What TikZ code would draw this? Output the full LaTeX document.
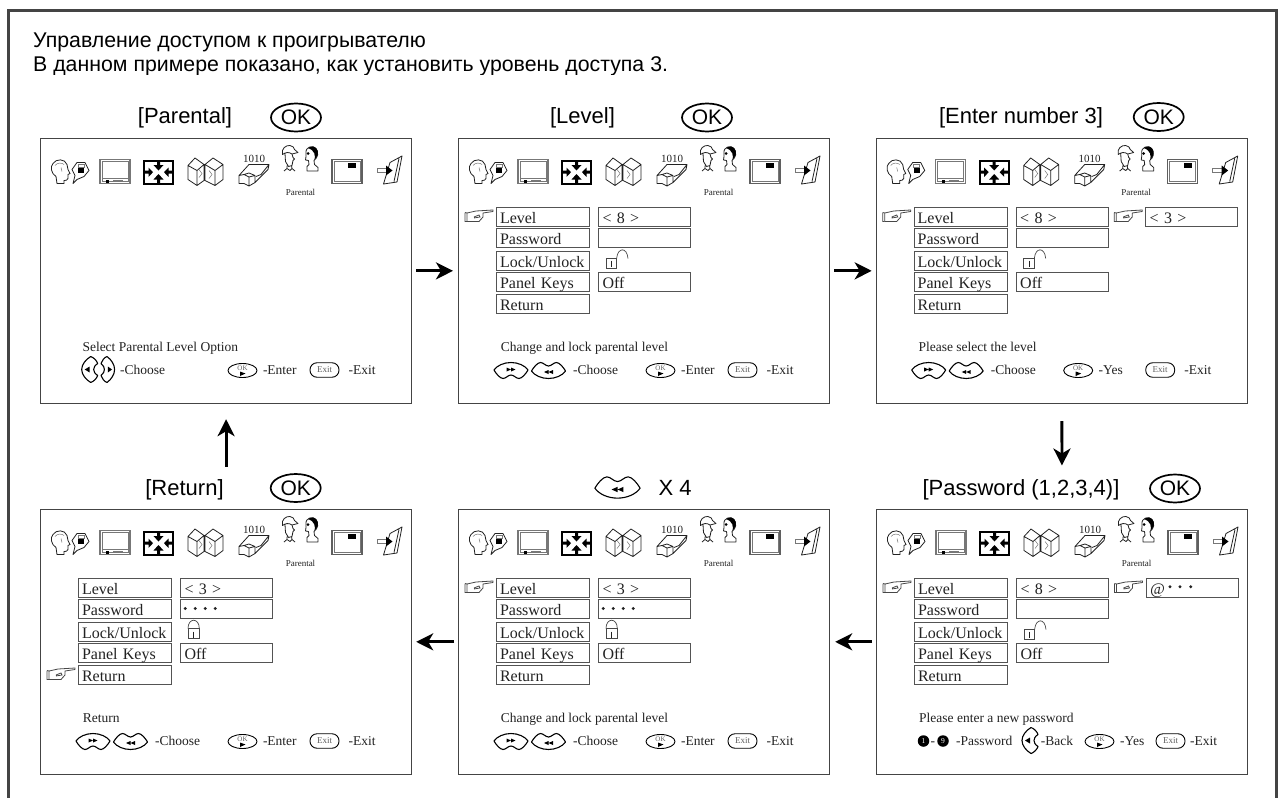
\documentclass[tikz,border=0pt]{standalone}
\usepackage{fontspec}
\setmainfont{Liberation Serif}
\newfontfamily\ruf{Liberation Sans}
\usetikzlibrary{shapes.geometric,arrows.meta}
\definecolor{ink}{HTML}{222222}
\definecolor{frame}{HTML}{444444}
\definecolor{soft}{HTML}{777777}
\tikzset{
  panel/.style={draw=frame,line width=1.2pt,anchor=north west,minimum width=371pt,minimum height=265.5pt,inner sep=0pt},
  menubox/.style={draw=soft!70!black,line width=1pt,anchor=north west,text width=86pt,inner xsep=3.5pt,inner ysep=0pt,minimum height=19pt,text height=14pt,text depth=1pt,align=left,font=\fontsize{16}{18}\selectfont,text=ink},
  valbox/.style={menubox,text width=84pt,inner xsep=4pt},
  ttl/.style={anchor=base,inner sep=0pt,font=\ruf\fontsize{22}{24}\selectfont,text=black},
  okring/.style={draw=black,line width=1.7pt,ellipse,minimum width=50pt,minimum height=28pt,inner sep=0pt,font=\ruf\fontsize{21}{22}\selectfont},
  intro/.style={anchor=base west,inner sep=0pt,font=\ruf\fontsize{21.3}{24}\selectfont,text=black},
  leg/.style={anchor=base west,inner sep=0pt,font=\fontsize{13.5}{15}\selectfont,text=ink},
  tiny/.style={inner sep=0pt,font=\fontsize{9}{10}\selectfont,text=ink},
  flow/.style={line width=2.9pt,draw=black,-{Stealth[length=17pt,width=17pt,inset=5pt]}},
  thin/.style={draw=ink,line width=.8pt},
  exitkey/.style={draw=black,line width=.9pt,rounded corners=7pt,minimum width=29pt,minimum height=14.5pt,inner sep=0pt,font=\fontsize{9}{10}\selectfont,text=soft!80!black},
  numkey/.style={circle,fill=black,minimum size=11.5pt,inner sep=0pt,text=white,font=\fontsize{7.5}{8}\selectfont},
  pics/btnconvex/.style={code={
    \draw[draw=black,line width=1.1pt,fill=white,line join=round] (-17,-.5) .. controls (-14,-5) and (-7,-8) .. (0,-8) .. controls (7,-8) and (14,-5) .. (17,-.5) .. controls (15,3) and (11,8) .. (8,8) .. controls (5,8) and (3,4.5) .. (0,4.5) .. controls (-3,4.5) and (-5,8) .. (-8,8) .. controls (-11,8) and (-15,3) .. (-17,-.5) -- cycle;
    \fill[black] (-4.5,-3) -- (0,-1) -- (-4.5,1) -- cycle (0,-3) -- (4.5,-1) -- (0,1) -- cycle;
  }},
  pics/btnconcave/.style={code={
    \draw[draw=black,line width=1.1pt,fill=white,line join=round] (-17,.5) .. controls (-15,-3) and (-11,-8) .. (-8,-8) .. controls (-5,-8) and (-3,-4.5) .. (0,-4.5) .. controls (3,-4.5) and (5,-8) .. (8,-8) .. controls (11,-8) and (15,-3) .. (17,.5) .. controls (14,5) and (7,8) .. (0,8) .. controls (-7,8) and (-14,5) .. (-17,.5) -- cycle;
    \fill[black] (-4.5,1.5) -- (0,-.5) -- (0,3.5) -- cycle (0,1.5) -- (4.5,-.5) -- (4.5,3.5) -- cycle;
  }},
  pics/btnside/.style={code={
    \draw[draw=black,line width=1.1pt,fill=white,line join=round] (1,-13) .. controls (-4,-10) and (-8,-5) .. (-8,0) .. controls (-8,5) and (-4,10) .. (1,13) .. controls (4,12) and (7,9) .. (8,6) .. controls (5,4) and (4,2) .. (4,0) .. controls (4,-2) and (5,-4) .. (8,-6) .. controls (7,-9) and (4,-12) .. (1,-13) -- cycle;
    \fill[black] (-5,0) -- (0,-3) -- (0,3) -- cycle;
  }},
  pics/pointer/.style={code={
    \draw[draw=soft!60!black,line width=.8pt,fill=white,line join=round] (2,3) -- (11,1) -- (28,0) -- (28,1.5) -- (18,3) -- (18,7) -- (14,11.5) -- (2,11.5) -- cycle;
    \draw[draw=soft!60!black,line width=.8pt] (0,2.5) -- (2,3) (0,2.5) -- (0,11.5) -- (2,11.5) (9,7) -- (14,5) -- (15,7) -- (9,8);
  }},
  pics/btnok/.style={code={
    \draw[draw=black,line width=.9pt] (0,0) ellipse (14.5pt and 7pt);
    \node[inner sep=0pt,font=\fontsize{7}{7}\selectfont,text=soft!80!black] at (0,-2.6) {OK};
    \fill[black] (-2.5,1) -- (3,3) -- (-2.5,5.5) -- cycle;
  }}
}
% ----- the row of menu icons, in panel coordinates
\newcommand{\iconrow}[1]{%
  % talking head
  \draw[thin] (17,46) -- (16,39) .. controls (11,36) and (10,29) .. (13,26) .. controls (16,21) and (25,21) .. (27,27) -- (28,32) -- (30,36) -- (28,37) -- (28,41) .. controls (28,43) and (25,43) .. (24,43) -- (24,46) -- cycle;
  \draw[soft,line width=.5pt] (15,28) .. controls (17,25) and (22,25) .. (24,27) (21,30) -- (22,34);
  \draw[thin,line join=round] (37,25) -- (45,25) -- (49,33) -- (44,39) -- (37,42) -- (33,46) -- (35,38) -- (32,32) -- cycle;
  \fill[black] (38,29.5) rectangle (44,35);
  \draw[soft,line width=.6pt] (38,27) rectangle (44,29.5);
  % screen
  \draw[soft,line width=1.2pt] (60,22) rectangle (90,46);
  \draw[soft,line width=.5pt] (62,24) rectangle (88,41) (62,41) -- (62,44) -- (88,44) -- (88,41);
  \fill[black] (66,42) rectangle (69,45);
  \draw[soft,line width=.7pt] (73,43) -- (83,43);
  % expand
  \draw[black,line width=2pt] (104,23.5) rectangle (133,46);
  \fill[black] (118.5,33) -- (113.5,27.5) -- (117,27.5) -- (117,24) -- (120,24) -- (120,27.5) -- (123.5,27.5) -- cycle
    (118.5,36.5) -- (113.5,42) -- (117,42) -- (117,46) -- (120,46) -- (120,42) -- (123.5,42) -- cycle
    (113,34.7) -- (108.5,30) -- (108.5,33.2) -- (104,33.2) -- (104,36.2) -- (108.5,36.2) -- (108.5,39.4) -- cycle
    (124,34.7) -- (128.5,30) -- (128.5,33.2) -- (133,33.2) -- (133,36.2) -- (128.5,36.2) -- (128.5,39.4) -- cycle;
  % map
  \draw[thin,line join=round] (148,28) -- (155,20.5) -- (164,27) -- (157,33) -- cycle (148,28) -- (148,42) -- (157,48) -- (157,33) (157,48) -- (164,43) -- (164,27)
    (165,27) -- (173,20.5) -- (183,27) -- (175,33) -- cycle (165,27) -- (165,43) -- (175,48) -- (175,33) (175,48) -- (183,42) -- (183,27);
  \draw[soft,line width=.5pt] (159,32) -- (162,36) -- (159,40) (169,33) -- (172,37) -- (169,41);
  % 1010
  \node[inner sep=0pt,anchor=base,font=\fontsize{11}{11}\selectfont,text=ink] (#1-bits) at (214,25) {1010};
  \draw[thin,line join=round] (199,38) -- (209,27) -- (229,27) -- (221,37) -- (216,39) (229,27) -- (228,32) -- (215,45)
    (199,38) -- (199,46) -- (204,46) -- (209,48.5) -- (215,45) -- (215,38) -- (209,35.5) -- (204,37) -- (209,39.5) -- (209,48.5) (209,39.5) -- (215,38) (199,38) -- (204,37);
  % two heads
  \draw[thin,line join=round] (242.5,17) .. controls (241,11) and (246,7.5) .. (250,8) .. controls (253,8.5) and (254,10) .. (254.5,12) -- (258,15) -- (252,16.5) .. controls (249,14) and (245,15) .. (242.5,17) -- cycle
    (245,16) -- (245.5,24) -- (248.5,29) -- (252,28) -- (253,23) -- (254.5,21.5) -- (253,20) -- (252,16.5)
    (247,28) -- (247,31) -- (244,33.5) (247,31) -- (250,33) -- (252,31) -- (255,33.5) (252,31) -- (251.5,28);
  \draw[thin,line join=round] (266,16) .. controls (265,9) and (273,7.5) .. (276,11) .. controls (279,15) and (278,20) .. (274,23) -- (274.5,27) -- (278,30) -- (278,33.5) -- (267,33.5) -- (267,29) -- (269,27) -- (268.5,23) -- (265.5,22.5) -- (266,19) -- cycle;
  \fill[black] (268,10.5) .. controls (272,7.5) and (276,9) .. (277.5,13) .. controls (278.5,17) and (277,20) .. (274.5,22.5) .. controls (275.5,18) and (275,13) .. (268,10.5) -- cycle;
  \fill[black] (268,16) circle (1.5pt);
  \node[tiny] (#1-par) at (260.5,55) {Parental};
  % small screen
  \draw[soft!80!black,line width=1.2pt] (292,22) rectangle (322,46);
  \draw[soft,line width=.5pt] (294,24) rectangle (320,44);
  \fill[black] (308,25) rectangle (316,30);
  % leave
  \draw[thin,line join=round] (350,25) -- (362,18.5) -- (357,44.5) -- (343.5,46.5) -- cycle (359,21) -- (354,44);
  \draw[soft,line width=.8pt,fill=white] (337,31) rectangle (347,35);
  \fill[black] (352.5,33) -- (346,28) -- (346,38) -- cycle;
}
% ----- the left-hand menu with its value fields
\newcommand{\menurows}[3]{%
  \node[menubox] (#1-level) at (38,69) {Level};
  \node[menubox] (#1-pass) at (38,90.5) {Password};
  \node[menubox] (#1-lock) at (38,113) {Lock/Unlock};
  \node[menubox] (#1-keys) at (38,134.7) {Panel Keys};
  \node[menubox] (#1-ret) at (38,156.5) {Return};
  \node[valbox] (#1-lval) at (140,69) {< #2 >};
  \node[valbox] (#1-pval) at (140,90.5) {\strut};
  \node[valbox] (#1-kval) at (140,134.7) {Off};
  \ifnum#3=0
    \draw[soft!60!black,line width=.8pt] (148,120.7) rectangle (158.7,131.3);
    \draw[soft!60!black,line width=.7pt] (158.7,120.7) .. controls (159.5,110) and (169,109) .. (170,121);
  \else
    \draw[soft!60!black,line width=.8pt] (148,120) rectangle (159.3,130.3);
    \draw[soft!60!black,line width=.7pt] (148,120) .. controls (148,109) and (159.3,109) .. (159.3,120);
    \foreach \q in {145.3,155.3,165.3,175.3} \fill[ink] (\q,100) circle (1.6pt);
  \fi
  \draw[ink,line width=.6pt] (153.4,123) -- (153.4,129);
}
% ----- the help line under the menu
\newcommand{\legendtail}[2]{%
  \pic at (202.5,233) {btnok};
  \node[leg] (#1-word) at (222.8,236.8) {#2};
  \node[exitkey] (#1-exitkey) at (284.5,232.5) {Exit};
  \node[leg] (#1-exitword) at (308.5,236.8) {-Exit};
}
\newcommand{\legendpair}[1]{%
  \pic at (53,233) {btnconvex};
  \pic at (90.5,233) {btnconcave};
  \node[leg] (#1-choose) at (115,236.8) {-Choose};
}
\newcommand{\scr}[4]{%
  \node[panel] (#1) at (#2,#3) {};
  \begin{scope}[shift={(#2,#3)}]
    \iconrow{#1}
    #4
  \end{scope}
}
\begin{document}
\begin{tikzpicture}[x=1pt,y=-1pt]
\useasboundingbox (0,0) rectangle (1278,798);
\fill[white] (0,0) rectangle (1278,798);
\draw[frame,line width=2.6pt] (8.5,798) -- (8.5,10.5) -- (1276.5,10.5) -- (1276.5,798);
\node[intro] (l1) at (33,47.7) {Управление доступом к проигрывателю};
\begin{scope}
  \clip (0,52) rectangle (1278,74.3);
  \node[intro] (l2) at (33,71.8) {В данном примере показано, как установить уровень доступа 3.};
\end{scope}
% titles
\node[ttl] (t1) at (185,123) {[Parental]};
\node[okring] (k1) at (296,117.5) {OK};
\node[ttl] (t2) at (582.5,123) {[Level]};
\node[okring] (k2) at (707,117.5) {OK};
\node[ttl] (t3) at (1021,123) {[Enter number 3]};
\node[okring] (k3) at (1158.7,117) {OK};
\node[ttl] (t6) at (1021,495) {[Password (1,2,3,4)]};
\node[okring] (k6) at (1175,488.5) {OK};
\node[ttl] (t4) at (184.5,495) {[Return]};
\node[okring] (k4) at (295.7,488) {OK};
\pic[scale=1.33] at (617.5,487.5) {btnconcave};
\node[ttl,anchor=base west] (t5) at (658.3,495) {X 4};
% screens
\scr{p1}{40}{137.5}{
  \node[leg] (p1-cap) at (42.3,214) {Select Parental Level Option};
  \pic at (49.7,232) {btnside};
  \pic[xscale=-.85] at (67.8,232) {btnside};
  \node[leg] (p1-choose) at (80,236.8) {-Choose};
  \legendtail{p1}{-Enter}
}
\scr{p2}{458}{137.5}{
  \menurows{p2}{8}{0}
  \pic at (7,72.5) {pointer};
  \node[leg] (p2-cap) at (42.7,214) {Change and lock parental level};
  \legendpair{p2}
  \legendtail{p2}{-Enter}
}
\scr{p3}{875.7}{137.5}{
  \menurows{p3}{8}{0}
  \pic at (7,72.5) {pointer};
  \pic at (238.5,72.5) {pointer};
  \node[valbox] (p3-new) at (269.5,69) {< 3 >};
  \node[leg] (p3-cap) at (42.7,214) {Please select the level};
  \legendpair{p3}
  \legendtail{p3}{-Yes}
}
\scr{p6}{876}{508.5}{
  \menurows{p6}{8}{0}
  \pic at (7,72.5) {pointer};
  \pic at (238.5,72.5) {pointer};
  \node[valbox] (p6-new) at (269.5,69) {\textit{@}};
  \foreach \q in {294,304,314.7} \fill[ink] (\q,78.3) circle (1.6pt);
  \node[leg] (p6-cap) at (43,214) {Please enter a new password};
  \node[numkey] (p6-n1) at (47.5,232.5) {1};
  \node[leg] (p6-dash) at (54.5,236.8) {-};
  \node[numkey] (p6-n9) at (67,232.5) {9};
  \node[leg] (p6-pw) at (80,236.8) {-Password};
  \pic at (154,232) {btnside};
  \node[leg] (p6-back) at (164.7,236.8) {-Back};
  \pic at (223.5,233) {btnok};
  \node[leg] (p6-yes) at (244,236.8) {-Yes};
  \node[exitkey] (p6-exitkey) at (294.5,232.5) {Exit};
  \node[leg] (p6-exitword) at (314,236.8) {-Exit};
}
\scr{p5}{458}{508.5}{
  \menurows{p5}{3}{1}
  \pic at (7,72.5) {pointer};
  \node[leg] (p5-cap) at (42.7,214) {Change and lock parental level};
  \legendpair{p5}
  \legendtail{p5}{-Enter}
}
\scr{p4}{40}{508.5}{
  \menurows{p4}{3}{1}
  \pic at (7,159.5) {pointer};
  \node[leg] (p4-cap) at (42.7,214) {Return};
  \legendpair{p4}
  \legendtail{p4}{-Enter}
}
% flow between the screens
\draw[flow,shorten <=4pt,shorten >=5pt] (p1) -- (p2);
\draw[flow,shorten <=4pt,shorten >=4pt] (p2) -- (p3);
\draw[flow,shorten <=17pt,shorten >=43pt] (p3) -- (p6);
\draw[flow,shorten <=4pt,shorten >=5pt] (p6) -- (p5);
\draw[flow,shorten <=4pt,shorten >=4pt] (p5) -- (p4);
\draw[flow,shorten <=42pt,shorten >=15pt] (p4) -- (p1);
\end{tikzpicture}
\end{document}
